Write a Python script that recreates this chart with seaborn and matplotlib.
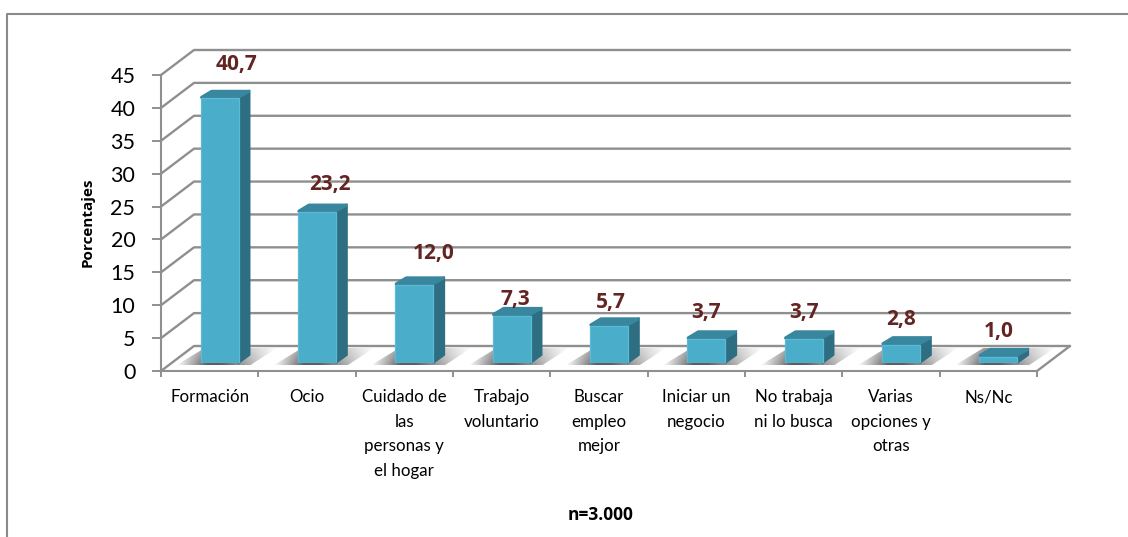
import numpy as np
import matplotlib
matplotlib.use("Agg")
import matplotlib.pyplot as plt
from matplotlib.patches import Polygon
from matplotlib.lines import Line2D
import pandas as pd
import seaborn as sns

categories = ["Formación", "Ocio", "Cuidado de\nlas\npersonas y\nel hogar", "Trabajo\nvoluntario",
              "Buscar\nempleo\nmejor", "Iniciar un\nnegocio", "No trabaja\nni lo busca",
              "Varias\nopciones y\notras", "Ns/Nc"]
values = [40.7, 23.2, 12.0, 7.3, 5.7, 3.7, 3.7, 2.8, 1.0]
value_labels = ["40,7", "23,2", "12,0", "7,3", "5,7", "3,7", "3,7", "2,8", "1,0"]
label_dx = [17, 13, 19, 4, 2, 0, 0, 0, 0]
label_dy = [34, 28, 32, 16, 23, 26, 26, 25, 25]
y_ticks = list(range(0, 50, 5))

W, H = 1128, 537
GRID = "#8f8f8f"
FRONT, SIDE, TOP = "#4aadc9", "#2e6e82", "#38879f"
LABEL = "#632523"
BOLD = "Open Sans"

sns.set_theme(style="white")
plt.rcParams["font.family"] = ["Lato", "DejaVu Sans"]
fig = plt.figure(figsize=(W / 100, H / 100), dpi=100, facecolor="white")


def rect(l, t, r, b):
    return [l / W, 1 - b / H, (r - l) / W, (b - t) / H]


# pixel canvas: walls, floor, shadows, 3D faces
px = fig.add_axes([0, 0, 1, 1], zorder=0)
px.set_xlim(0, W)
px.set_ylim(H, 0)
px.axis("off")

AX_L, AX_R, AX_B, AX_T = 161, 1037, 371, 75
DX, DY = 33, -25

ax = fig.add_axes(rect(AX_L, AX_T, AX_R, AX_B), zorder=1)
ax.patch.set_alpha(0)
ax.set_xlim(-0.5, len(categories) - 0.5)
ax.set_ylim(0, 45)
for s in ["top", "right"]:
    ax.spines[s].set_visible(False)
for s in ["left", "bottom"]:
    ax.spines[s].set_color(GRID)
    ax.spines[s].set_linewidth(1.5)
ax.set_yticks(y_ticks)
ax.tick_params(axis="y", labelsize=15.5, length=6.5, width=1.4, color=GRID, pad=12, labelcolor="black", left=True)
ax.set_xticks(range(len(categories)))
ax.set_xticklabels(categories, fontsize=12.2, color="black", linespacing=1.66, va="top")
ax.tick_params(axis="x", which="major", length=0, pad=13)
ax.set_xticks(np.arange(-0.5, len(categories)), minor=True)
ax.tick_params(axis="x", which="minor", length=4.5, width=1.4, color=GRID, bottom=True)

# bars, standing on the floor half way into its depth
bx = fig.add_axes(rect(AX_L + 10, 363 - 45 * 6.5, AX_R + 10, 363), zorder=2)
bx.patch.set_alpha(0)
df = pd.DataFrame({"cat": categories, "val": values})
sns.barplot(data=df, x="cat", y="val", ax=bx, color=FRONT, saturation=1, width=0.39,
            edgecolor="#5cbad4", linewidth=0.9)
bx.set_xlim(-0.5, len(categories) - 0.5)
bx.set_ylim(0, 45)
bx.axis("off")

# back wall gridlines and slanted wall lines
for v in y_ticks:
    x0, y0 = AX_L, AX_B - (AX_B - AX_T) * v / 45
    px.plot([x0, x0 + DX, 1070], [y0, y0 + DY, y0 + DY], color=GRID, lw=1.7, solid_joinstyle="round", zorder=1)
px.plot([AX_R, AX_R + DX], [AX_B, AX_B + DY], color=GRID, lw=1.7, zorder=1)

fig.canvas.draw()
for i, p in enumerate(bx.patches):
    e = p.get_window_extent()
    x0, x1 = e.x0, e.x1
    yb, yt = H - e.y0, H - e.y1
    d_x, d_y = 11, -8
    # shadow on the floor, fading sideways and towards the back
    sx0, sx1 = x0 - 24, x1 + 38
    t = np.linspace(0, 1, 200)
    horizontal = np.clip(t / 0.3, 0, 1) * np.clip((1 - t) / 0.55, 0, 1)
    vertical = np.linspace(0.6, 1, 40)[:, None]
    img = np.zeros((40, 200, 4))
    img[..., :3] = 0.36
    img[..., 3] = vertical * horizontal[None, :]
    im = px.imshow(img, extent=[sx0, sx1, 365, 348], aspect="auto", zorder=2, interpolation="bilinear")
    clip = Polygon([(sx0, 365), (x1 + 12, 365), (sx1, 348), (x0 + 4, 348)], closed=True,
                   transform=px.transData, fc="none", ec="none")
    px.add_patch(clip)
    im.set_clip_path(clip)
    # depth faces
    px.add_patch(Polygon([(x1, yb), (x1 + d_x, yb + d_y), (x1 + d_x, yt + d_y), (x1, yt)], closed=True,
                         fc=SIDE, ec=SIDE, lw=1.2, joinstyle="round", zorder=3))
    px.add_patch(Polygon([(x0 + 1, yt - 1), (x0 + d_x, yt + d_y + 1), (x1 + d_x - 1, yt + d_y + 1), (x1 - 1, yt - 1)],
                         closed=True, fc=TOP, ec=TOP, lw=2.4, joinstyle="round", zorder=3))
    bx.annotate(value_labels[i], xy=(i, values[i]), xytext=(label_dx[i] * 0.72, label_dy[i] * 0.72),
                textcoords="offset points", ha="center", va="center", fontsize=15, fontweight="bold",
                family=BOLD, color=LABEL, annotation_clip=False, zorder=5)
px.set_xlim(0, W)
px.set_ylim(H, 0)

# axis titles
fig.text(88 / W, 1 - 222 / H, "Porcentajes", rotation=90, ha="center", va="center", fontsize=11,
         fontweight="bold", family=BOLD, color="black")
fig.text(601 / W, 1 - 515 / H, "n=3.000", ha="center", va="center", fontsize=12.5, fontweight="bold",
         family=BOLD, color="black")

# chart frame
fig.add_artist(Line2D([7 / W, 7 / W, 1], [0, 1 - 14 / H, 1 - 14 / H], color="#8a8a8a", lw=1.5))

fig.savefig("out.png", dpi=100, facecolor="white")
